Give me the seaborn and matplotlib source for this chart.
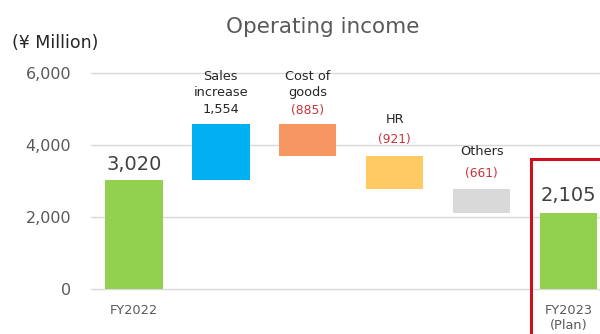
import numpy as np
import pandas as pd
import matplotlib
matplotlib.use("Agg")
import matplotlib.pyplot as plt
from matplotlib.patches import Rectangle
import seaborn as sns

# Operating income bridge, FY2022 -> FY2023 (Plan), in ¥ million
categories = ["FY2022", "Sales increase", "Cost of goods", "HR", "Others", "FY2023\n(Plan)"]
tick_labels = ["FY2022", "", "", "", "", "FY2023\n(Plan)"]
start_value = 3020
changes = [1554, -885, -921, -661]
end_value = 2105
bar_colors = ["#92D050", "#00B0F0", "#F79660", "#FFC963", "#D9D9D9", "#92D050"]

# floating bar geometry derived from the values
cum = np.cumsum([start_value] + changes)
bottoms = [0] + [min(cum[i], cum[i + 1]) for i in range(len(changes))] + [0]
heights = [start_value] + [abs(c) for c in changes] + [end_value]
tops = [b + h for b, h in zip(bottoms, heights)]

df = pd.DataFrame({"category": categories, "height": heights})

sns.set_style("white")
plt.rcParams["font.family"] = ["DejaVu Sans", "Noto Sans CJK JP"]

fig = plt.figure(figsize=(6.0, 3.34), dpi=100)
ax = fig.add_axes([90.5 / 600, 45 / 334, 521.5 / 600, 216 / 334])

sns.barplot(data=df, x="category", y="height", bottom=bottoms, width=0.66,
            color="#92D050", saturation=1, ax=ax, zorder=3, linewidth=0)
for patch, c in zip(ax.patches, bar_colors):
    patch.set_facecolor(c)
    patch.set_edgecolor("none")

ax.set_ylim(0, 6000)
ax.set_xlim(-0.5, 5.5)
ax.set_yticks([0, 2000, 4000, 6000])
ax.set_yticklabels([f"{v:,}" for v in [0, 2000, 4000, 6000]],
                   fontsize=11.5, color="#595959")
ax.set_xticks(range(len(categories)))
ax.set_xticklabels(tick_labels, fontsize=9.3, color="#595959")
ax.tick_params(axis="y", length=0, pad=14)
ax.tick_params(axis="x", length=0, pad=11)
ax.set_xlabel("")
ax.set_ylabel("")
for s in ax.spines.values():
    s.set_visible(False)
ax.yaxis.grid(True, color="#D9D9D9", linewidth=1.0, zorder=0)
ax.set_axisbelow(True)
for gl in ax.get_ygridlines():
    gl.set_clip_on(False)

red = "#C8323C"

def label(i, text, dy, color="#262626", size=9.3):
    ax.annotate(text, xy=(i, tops[i]), xytext=(0, dy), textcoords="offset pixels",
                ha="center", va="center", fontsize=size, color=color,
                annotation_clip=False)

# totals
label(0, f"{start_value:,}", 16, color="#404040", size=14)
label(5, f"{end_value:,}", 18, color="#404040", size=14)

# change labels
label(1, "Sales", 48)
label(1, "increase", 32)
label(1, f"{changes[0]:,}", 15)
label(2, "Cost of", 48)
label(2, "goods", 32)
label(2, f"({abs(changes[1]):,})", 14, color=red, size=8.8)
label(3, "HR", 37)
label(3, f"({abs(changes[2]):,})", 17, color=red, size=8.8)
label(4, "Others", 38)
label(4, f"({abs(changes[3]):,})", 16, color=red, size=8.8)

# highlight frame around the plan year
ax.add_patch(Rectangle((4.57, -2000), 2.0, 3611 + 2000, fill=False,
                       edgecolor="#CC1020", linewidth=2.2, clip_on=False, zorder=5))

fig.text(323 / 600, 1 - 27 / 334, "Operating income", ha="center", va="center",
         fontsize=15.5, color="#595959")
fig.text(12 / 600, 1 - 43 / 334, "(¥ Million)", ha="left", va="center",
         fontsize=12.5, color="#262626")

fig.savefig("out.png", dpi=100)
